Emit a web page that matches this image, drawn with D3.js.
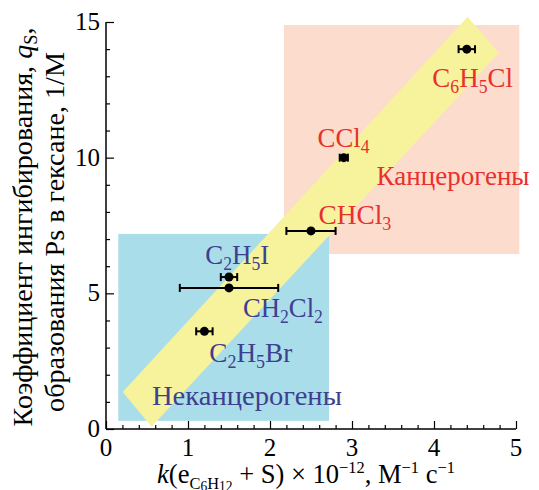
<!DOCTYPE html>
<html>
<head>
<meta charset="utf-8">
<script src="https://cdn.jsdelivr.net/npm/d3@7"></script>
<style>
  body { margin: 0; background: #fff; }
</style>
</head>
<body>
<div id="chart"></div>
<script>
// точки: k (x) и q_S (y)
const compounds = ["C_6H_5Cl", "CCl_4", "CHCl_3", "C_2H_5I", "CH_2Cl_2", "C_2H_5Br"];
const kValues = [4.4, 2.9, 2.5, 1.5, 1.5, 1.2];
const kErrors = [0.1, 0.05, 0.3, 0.1, 0.6, 0.1];
const qValues = [14.0, 10.0, 7.3, 5.6, 5.2, 3.6];
const groups = ["canc", "canc", "canc", "non", "non", "non"];

// где стоят подписи (в единицах осей: левый край, базовая линия) и их ширина в px
const labelX = [3.98, 2.58, 2.59, 1.21, 1.67, 1.26];
const labelY = [12.6, 10.4, 7.55, 6.08, 4.14, 2.48];
const labelW = [81, 52, 73, 64, 80, 83];

const regionNames = ["Канцерогены", "Неканцерогены"];
const regionLabelX = [3.30, 0.56];
const regionLabelY = [8.99, 0.88];
const regionLabelW = [153, 190];
// прямоугольники областей [x0, x1, y0, y1]
const regionBoxes = [[2.17, 5.04, 6.45, 14.89], [0.15, 2.72, 0.3, 7.19]];
// жёлтая полоса
const bandCorners = [[0.204, 1.36], [0.556, 0.085], [4.79, 13.86], [4.41, 15.19]];

const xTicks = [0, 1, 2, 3, 4, 5];
const yTicks = [0, 5, 10, 15];

const colors = { canc: "#e8302e", non: "#3f3f8f" };
const fills = ["#fcdccc", "#a9dde9"];
const FONT = "'Liberation Serif', 'Times New Roman', 'DejaVu Serif', serif";
const FS = 27.5;

const width = 539, height = 490;
const x = d3.scaleLinear().domain([0, 5]).range([106, 516]);
const y = d3.scaleLinear().domain([0, 15]).range([429, 22]);

const svg = d3.select("#chart").append("svg")
    .attr("width", width)
    .attr("height", height)
    .attr("font-family", FONT);

// сжать/растянуть текст по горизонтали до нужной ширины
function fit(t, px, py, w, rot) {
    const bw = t.node().getBBox().width;
    const s = w / bw;
    t.attr("transform", `translate(${px},${py})` + (rot ? ` rotate(${rot})` : "") + ` scale(${s},1)`);
}

// области
svg.selectAll("rect.region")
    .data(regionBoxes)
    .enter()
    .append("rect")
    .attr("class", "region")
    .attr("x", d => x(d[0]))
    .attr("y", d => y(d[3]))
    .attr("width", d => x(d[1]) - x(d[0]))
    .attr("height", d => y(d[2]) - y(d[3]))
    .attr("fill", (d, i) => fills[i]);

svg.append("path")
    .attr("d", d3.line().x(d => x(d[0])).y(d => y(d[1]))(bandCorners) + "Z")
    .attr("fill", "#f7f29c");

// оси
const xAxis = svg.append("g").attr("transform", `translate(0,${y(0)})`);
xAxis.call(d3.axisBottom(x).tickValues(d3.range(0, 5.01, 0.2)).tickSize(-4).tickFormat(""));
xAxis.call(g => g.selectAll(".tick line").filter(d => Math.abs(d - Math.round(d)) < 1e-6).attr("y2", -8));
const yAxis = svg.append("g").attr("transform", `translate(${x(0)},0)`);
yAxis.call(d3.axisLeft(y).tickValues(d3.range(0, 15.01, 1)).tickSize(-4).tickFormat(""));
yAxis.call(g => g.selectAll(".tick line").filter(d => d % 5 === 0).attr("x2", 8));
svg.selectAll(".domain").attr("stroke", "#000").attr("stroke-width", 1.5);
svg.selectAll(".tick line").attr("stroke", "#000").attr("stroke-width", 1.2);
// без засечек на концах domain
xAxis.select(".domain").attr("d", `M${x(0)},0H${x(5)}`);
yAxis.select(".domain").attr("d", `M0,${y(0)}V${y(15)}`);

svg.selectAll("text.xt")
    .data(xTicks)
    .enter()
    .append("text")
    .attr("class", "xt")
    .attr("x", d => x(d))
    .attr("y", y(0) + 27)
    .attr("text-anchor", "middle")
    .attr("font-size", 25)
    .text(d => d);

svg.selectAll("text.yt")
    .data(yTicks)
    .enter()
    .append("text")
    .attr("class", "yt")
    .attr("x", x(0) - 6)
    .attr("y", d => y(d) + 8)
    .attr("text-anchor", "end")
    .attr("font-size", 25)
    .text(d => d);

// точки с погрешностями
const pts = svg.selectAll("g.pt")
    .data(compounds.map((c, i) => ({ c, k: kValues[i], e: kErrors[i], q: qValues[i] })))
    .enter()
    .append("g")
    .attr("class", "pt");
pts.append("line")
    .attr("x1", d => x(d.k - d.e)).attr("x2", d => x(d.k + d.e))
    .attr("y1", d => y(d.q)).attr("y2", d => y(d.q))
    .attr("stroke", "#000").attr("stroke-width", 2);
pts.append("line")
    .attr("x1", d => x(d.k - d.e)).attr("x2", d => x(d.k - d.e))
    .attr("y1", d => y(d.q) - 4).attr("y2", d => y(d.q) + 4)
    .attr("stroke", "#000").attr("stroke-width", 2);
pts.append("line")
    .attr("x1", d => x(d.k + d.e)).attr("x2", d => x(d.k + d.e))
    .attr("y1", d => y(d.q) - 4).attr("y2", d => y(d.q) + 4)
    .attr("stroke", "#000").attr("stroke-width", 2);
pts.append("circle")
    .attr("cx", d => x(d.k))
    .attr("cy", d => y(d.q))
    .attr("r", 4.5)
    .attr("fill", "#000");

// формула с индексами: "C_6H_5Cl"
function formula(sel, str) {
    const parts = str.split(/(_\d)/).filter(s => s.length);
    let shift = 0;
    parts.forEach(p => {
        if (p[0] === "_") {
            sel.append("tspan").attr("dy", 6 - shift).attr("font-size", "0.66em").text(p.slice(1));
            shift = 6;
        } else {
            sel.append("tspan").attr("dy", -shift).text(p);
            shift = 0;
        }
    });
}

compounds.forEach((c, i) => {
    const t = svg.append("text")
        .attr("font-size", FS)
        .attr("fill", colors[groups[i]]);
    formula(t, c);
    fit(t, x(labelX[i]), y(labelY[i]), labelW[i]);
});

regionNames.forEach((n, i) => {
    const t = svg.append("text")
        .attr("font-size", FS)
        .attr("fill", i === 0 ? colors.canc : colors.non)
        .text(n);
    fit(t, x(regionLabelX[i]), y(regionLabelY[i]), regionLabelW[i]);
});

// подписи осей
const xt = svg.append("text")
    .attr("text-anchor", "middle")
    .attr("font-size", FS);
xt.append("tspan").attr("font-style", "italic").text("k");
xt.append("tspan").text("(e");
xt.append("tspan").attr("dy", 6).attr("font-size", 17).text("C");
xt.append("tspan").attr("dy", 2).attr("font-size", 14).text("6");
xt.append("tspan").attr("dy", -2).attr("font-size", 17).text("H");
xt.append("tspan").attr("dy", 2).attr("font-size", 14).text("12");
xt.append("tspan").attr("dy", -8).text(" + S) × 10");
xt.append("tspan").attr("dy", -10).attr("font-size", 17).text("−12");
xt.append("tspan").attr("dy", 10).text(", М");
xt.append("tspan").attr("dy", -10).attr("font-size", 17).text("−1");
xt.append("tspan").attr("dy", 10).text(" с");
xt.append("tspan").attr("dy", -10).attr("font-size", 17).text("−1");
fit(xt, 306, 483, 298);

const yt1 = svg.append("text")
    .attr("text-anchor", "middle")
    .attr("font-size", FS);
yt1.append("tspan").text("Коэффициент ингибирования, ");
yt1.append("tspan").attr("font-style", "italic").text("q");
yt1.append("tspan").attr("dy", 5).attr("font-size", 18).text("S");
yt1.append("tspan").attr("dy", -5).text(",");
fit(yt1, 32, 227, 399, -90);

const yt2 = svg.append("text")
    .attr("text-anchor", "middle")
    .attr("font-size", FS)
    .text("образования Ps в гексане, 1/М");
fit(yt2, 63.5, 232, 360, -90);
</script>
</body>
</html>
